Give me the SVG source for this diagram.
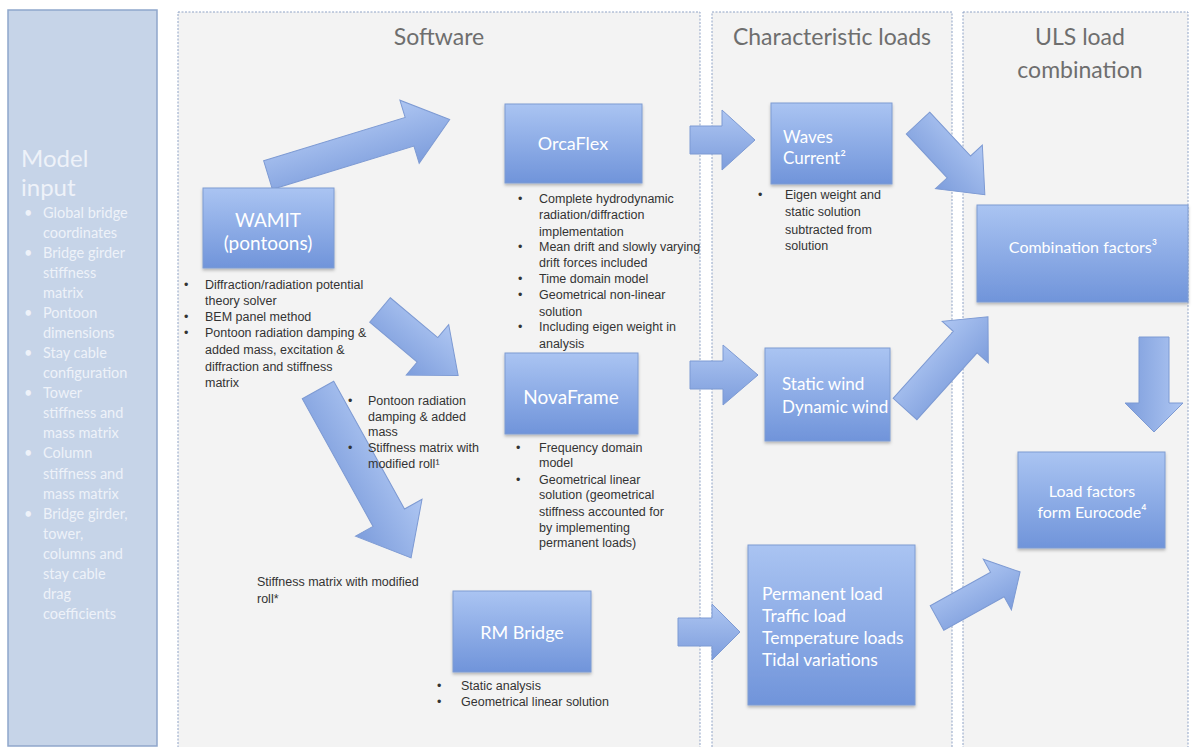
<svg xmlns="http://www.w3.org/2000/svg" width="1197" height="747" viewBox="0 0 1197 747">
<style>
.panel{fill:#f3f3f3;stroke:#8fa3c6;stroke-width:1;stroke-dasharray:2 1.5}
.title{font-family:Lato,"Open Sans",sans-serif;font-size:23px;fill:#6e6e6e;text-anchor:middle}
.box{fill:url(#bg);stroke:#7f9cd2;stroke-width:1;filter:url(#sh)}
.bt{font-family:Lato,"Open Sans",sans-serif;fill:#ffffff}
.note{font-family:"Liberation Sans",Arial,sans-serif;font-size:12.5px;fill:#333}
.left{font-family:Lato,"Open Sans",sans-serif;font-size:14.5px;fill:#eef2f9}
.big{font-family:Lato,"Open Sans",sans-serif;font-size:24px;fill:#eef2f9}
.arr{fill:url(#ag);stroke:#7d9ad3;stroke-width:1}
</style>
<defs>
<linearGradient id="bg" x1="0" y1="0" x2="0" y2="1"><stop offset="0" stop-color="#aac4f2"/><stop offset="1" stop-color="#7094da"/></linearGradient>
<linearGradient id="ag" x1="0" y1="0" x2="0" y2="1"><stop offset="0" stop-color="#aec6f2"/><stop offset="1" stop-color="#7d9ddc"/></linearGradient>
<filter id="sh" x="-10%" y="-10%" width="120%" height="130%"><feDropShadow dx="0" dy="2" stdDeviation="1.5" flood-color="#000" flood-opacity="0.25"/></filter>
</defs>
<rect width="1197" height="747" fill="#ffffff"/>
<g id="model-input">
<rect x="8" y="10" width="149" height="736" fill="#c6d4e8" stroke="#8fa6cb" stroke-width="1.5"/>
<text class="big" x="21" y="167">Model</text>
<text class="big" x="21" y="196">input</text>
<g class="left">
<text x="24" y="218">•</text><text x="43" y="218">Global bridge</text>
<text x="43" y="238">coordinates</text>
<text x="24" y="258">•</text><text x="43" y="258">Bridge girder</text>
<text x="43" y="278">stiffness</text>
<text x="43" y="298">matrix</text>
<text x="24" y="318">•</text><text x="43" y="318">Pontoon</text>
<text x="43" y="338">dimensions</text>
<text x="24" y="358">•</text><text x="43" y="358">Stay cable</text>
<text x="43" y="378">configuration</text>
<text x="24" y="398">•</text><text x="43" y="398">Tower</text>
<text x="43" y="418">stiffness and</text>
<text x="43" y="438">mass matrix</text>
<text x="24" y="458">•</text><text x="43" y="458">Column</text>
<text x="43" y="479">stiffness and</text>
<text x="43" y="499">mass matrix</text>
<text x="24" y="519">•</text><text x="43" y="519">Bridge girder,</text>
<text x="43" y="539">tower,</text>
<text x="43" y="559">columns and</text>
<text x="43" y="579">stay cable</text>
<text x="43" y="599">drag</text>
<text x="43" y="619">coefficients</text>
</g>
</g>
<g id="software-panel">
<rect class="panel" x="178" y="12" width="522" height="740"/>
<text class="title" x="439" y="45">Software</text>
</g>
<g id="characteristic-panel">
<rect class="panel" x="712" y="12" width="240" height="740"/>
<text class="title" x="832" y="45">Characteristic loads</text>
</g>
<g id="uls-panel">
<rect class="panel" x="963" y="12" width="225" height="740"/>
<text class="title" x="1080" y="45">ULS load</text>
<text class="title" x="1080" y="78">combination</text>
</g>
<g id="connectors">
<path class="arr" transform="translate(268,175) rotate(-17)" d="M0,-15 L148,-15 L148,-33 L190,0 L148,33 L148,15 L0,15 Z"/>
<path class="arr" transform="translate(380,310) rotate(40)" d="M0,-16 L62,-16 L62,-33 L102,0 L62,33 L62,16 L0,16 Z"/>
<path class="arr" transform="translate(318,390) rotate(61)" d="M0,-18 L146,-18 L146,-38 L192,0 L146,38 L146,18 L0,18 Z"/>
<path class="arr" transform="translate(690,140) rotate(0)" d="M0,-14 L32,-14 L32,-30 L65,0 L32,30 L32,14 L0,14 Z"/>
<path class="arr" transform="translate(690,375) rotate(0)" d="M0,-14 L33,-14 L33,-30 L68,0 L33,30 L33,14 L0,14 Z"/>
<path class="arr" transform="translate(678,632) rotate(0)" d="M0,-14 L34,-14 L34,-28 L62,0 L34,28 L34,14 L0,14 Z"/>
<path class="arr" transform="translate(918,123) rotate(47)" d="M0,-16 L60,-16 L60,-32 L98,0 L60,32 L60,16 L0,16 Z"/>
<path class="arr" transform="translate(905,409) rotate(-48)" d="M0,-16 L90,-16 L90,-31 L124,0 L90,31 L90,16 L0,16 Z"/>
<path class="arr" transform="translate(1154,337) rotate(90)" d="M0,-15 L66,-15 L66,-29 L95,0 L66,29 L66,15 L0,15 Z"/>
<path class="arr" transform="translate(937,618) rotate(-29)" d="M0,-14 L69,-14 L69,-29 L95,0 L69,29 L69,14 L0,14 Z"/>
</g>
<g id="wamit">
<rect class="box" x="203" y="188" width="131" height="80"/>
<text class="bt" x="268" y="227" font-size="19" text-anchor="middle">WAMIT</text>
<text class="bt" x="268" y="250" font-size="19" text-anchor="middle">(pontoons)</text>
<g class="note">
<text x="184" y="289">•</text><text x="205" y="289">Diffraction/radiation potential</text>
<text x="205" y="305">theory solver</text>
<text x="184" y="321">•</text><text x="205" y="321">BEM panel method</text>
<text x="184" y="337">•</text><text x="205" y="337">Pontoon radiation damping &amp;</text>
<text x="205" y="354">added mass, excitation &amp;</text>
<text x="205" y="371">diffraction  and stiffness</text>
<text x="205" y="387">matrix</text>
</g>
</g>
<g id="orcaflex">
<rect class="box" x="505" y="104" width="137" height="79"/>
<text class="bt" x="573" y="150" font-size="18" text-anchor="middle">OrcaFlex</text>
<g class="note">
<text x="518" y="203">•</text><text x="539" y="203">Complete hydrodynamic</text>
<text x="539" y="219">radiation/diffraction</text>
<text x="539" y="236">implementation</text>
<text x="518" y="251">•</text><text x="539" y="251">Mean drift and slowly varying</text>
<text x="539" y="267">drift forces included</text>
<text x="518" y="283">•</text><text x="539" y="283">Time domain model</text>
<text x="518" y="299">•</text><text x="539" y="299">Geometrical non-linear</text>
<text x="539" y="316">solution</text>
<text x="518" y="331">•</text><text x="539" y="331">Including eigen weight in</text>
<text x="539" y="348">analysis</text>
</g>
</g>
<g id="pontoon-notes" class="note">
<text x="348" y="405">•</text><text x="368" y="405">Pontoon radiation</text>
<text x="368" y="421">damping &amp; added</text>
<text x="368" y="436">mass</text>
<text x="348" y="452">•</text><text x="368" y="452">Stiffness matrix with</text>
<text x="368" y="468">modified roll¹</text>
</g>
<g id="novaframe">
<rect class="box" x="505" y="353" width="133" height="81"/>
<text class="bt" x="571" y="404" font-size="19" text-anchor="middle">NovaFrame</text>
<g class="note">
<text x="516" y="452">•</text><text x="539" y="452">Frequency domain</text>
<text x="539" y="467">model</text>
<text x="516" y="484">•</text><text x="539" y="484">Geometrical linear</text>
<text x="539" y="499">solution (geometrical</text>
<text x="539" y="516">stiffness accounted for</text>
<text x="539" y="532">by implementing</text>
<text x="539" y="547">permanent loads)</text>
</g>
</g>
<g id="rm-note" class="note">
<text x="257" y="586">Stiffness matrix with modified</text>
<text x="257" y="603">roll*</text>
</g>
<g id="rmbridge">
<rect class="box" x="453" y="591" width="138" height="81"/>
<text class="bt" x="522" y="639" font-size="18" text-anchor="middle">RM Bridge</text>
<g class="note">
<text x="437" y="690">•</text><text x="461" y="690">Static analysis</text>
<text x="437" y="706">•</text><text x="461" y="706">Geometrical linear solution</text>
</g>
</g>
<g id="waves">
<rect class="box" x="771" y="103" width="121" height="81"/>
<text class="bt" x="783" y="143" font-size="17">Waves</text>
<text class="bt" x="783" y="164" font-size="17">Current²</text>
<g class="note">
<text x="758" y="199">•</text><text x="785" y="199">Eigen weight and</text>
<text x="785" y="216">static solution</text>
<text x="785" y="234">subtracted from</text>
<text x="785" y="250">solution</text>
</g>
</g>
<g id="wind">
<rect class="box" x="765" y="348" width="125" height="93"/>
<text class="bt" x="782" y="390" font-size="17">Static wind</text>
<text class="bt" x="782" y="413" font-size="17">Dynamic wind</text>
</g>
<g id="permanent">
<rect class="box" x="748" y="545" width="167" height="160"/>
<text class="bt" x="762" y="600" font-size="17.5">Permanent load</text>
<text class="bt" x="762" y="622" font-size="17.5">Traffic load</text>
<text class="bt" x="762" y="644" font-size="17.5">Temperature loads</text>
<text class="bt" x="762" y="666" font-size="17.5">Tidal variations</text>
</g>
<g id="combination">
<rect class="box" x="977" y="205" width="211" height="97"/>
<text class="bt" x="1083" y="253" font-size="16" text-anchor="middle">Combination factors³</text>
</g>
<g id="loadfactors">
<rect class="box" x="1018" y="452" width="147" height="96"/>
<text class="bt" x="1092" y="497" font-size="16" text-anchor="middle">Load factors</text>
<text class="bt" x="1092" y="518" font-size="16" text-anchor="middle">form Eurocode⁴</text>
</g>
</svg>
